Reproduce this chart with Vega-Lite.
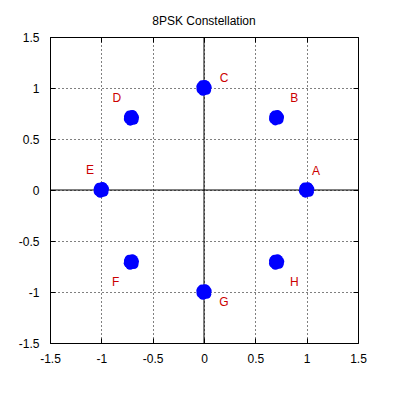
{
  "$schema": "https://vega.github.io/schema/vega-lite/v6.json",
  "width": 308,
  "height": 306,
  "autosize": {"type": "none"},
  "padding": {"left": 50, "top": 37, "right": 36, "bottom": 51},
  "background": "white",
  "title": {"text": "8PSK Constellation", "font": "Liberation Sans", "fontSize": 12, "fontWeight": "normal", "color": "black", "offset": 3},
  "config": {
    "view": {"stroke": "black", "strokeWidth": 1},
    "axis": {"labelFont": "Liberation Sans", "labelFontSize": 12, "labelColor": "black", "domain": false, "tickColor": "black", "tickSize": -5, "title": null}
  },
  "datasets": {
    "pts": [
      {"x": 1.0, "y": 0.0}, {"x": 1.03, "y": 0.01}, {"x": 0.972, "y": 0.015}, {"x": 1.01, "y": 0.032}, {"x": 0.988, "y": -0.03}, {"x": 1.025, "y": -0.022}, {"x": 0.97, "y": -0.012}, {"x": 1.018, "y": 0.026}, {"x": 0.98, "y": 0.028},
      {"x": 0.707, "y": 0.707}, {"x": 0.735, "y": 0.715}, {"x": 0.68, "y": 0.72}, {"x": 0.715, "y": 0.738}, {"x": 0.695, "y": 0.678}, {"x": 0.73, "y": 0.688}, {"x": 0.678, "y": 0.697}, {"x": 0.722, "y": 0.732}, {"x": 0.688, "y": 0.733},
      {"x": 0.0, "y": 1.0}, {"x": 0.03, "y": 1.008}, {"x": -0.03, "y": 1.012}, {"x": 0.008, "y": 1.033}, {"x": -0.01, "y": 0.968}, {"x": 0.024, "y": 0.978}, {"x": -0.028, "y": 0.985}, {"x": 0.02, "y": 1.025}, {"x": -0.018, "y": 1.03},
      {"x": -0.707, "y": 0.707}, {"x": -0.678, "y": 0.712}, {"x": -0.735, "y": 0.718}, {"x": -0.7, "y": 0.74}, {"x": -0.718, "y": 0.676}, {"x": -0.682, "y": 0.686}, {"x": -0.736, "y": 0.695}, {"x": -0.69, "y": 0.733}, {"x": -0.726, "y": 0.735},
      {"x": -1.0, "y": 0.0}, {"x": -0.97, "y": 0.012}, {"x": -1.03, "y": 0.01}, {"x": -0.99, "y": 0.033}, {"x": -1.01, "y": -0.031}, {"x": -0.975, "y": -0.02}, {"x": -1.03, "y": -0.014}, {"x": -0.982, "y": 0.027}, {"x": -1.022, "y": 0.026},
      {"x": -0.707, "y": -0.707}, {"x": -0.678, "y": -0.7}, {"x": -0.735, "y": -0.695}, {"x": -0.698, "y": -0.676}, {"x": -0.72, "y": -0.737}, {"x": -0.683, "y": -0.73}, {"x": -0.737, "y": -0.718}, {"x": -0.688, "y": -0.682}, {"x": -0.728, "y": -0.68},
      {"x": 0.0, "y": -1.0}, {"x": 0.03, "y": -0.99}, {"x": -0.03, "y": -0.988}, {"x": 0.01, "y": -0.968}, {"x": -0.01, "y": -1.032}, {"x": 0.026, "y": -1.022}, {"x": -0.028, "y": -1.014}, {"x": 0.018, "y": -0.975}, {"x": -0.02, "y": -0.972},
      {"x": 0.707, "y": -0.707}, {"x": 0.737, "y": -0.7}, {"x": 0.678, "y": -0.694}, {"x": 0.716, "y": -0.676}, {"x": 0.696, "y": -0.737}, {"x": 0.731, "y": -0.728}, {"x": 0.678, "y": -0.72}, {"x": 0.724, "y": -0.682}, {"x": 0.688, "y": -0.68}
    ],
    "labels": [
      {"x": 1.09, "y": 0.19, "label": "A"},
      {"x": 0.88, "y": 0.9, "label": "B"},
      {"x": 0.195, "y": 1.1, "label": "C"},
      {"x": -0.85, "y": 0.9, "label": "D"},
      {"x": -1.11, "y": 0.2, "label": "E"},
      {"x": -0.86, "y": -0.9, "label": "F"},
      {"x": 0.195, "y": -1.1, "label": "G"},
      {"x": 0.88, "y": -0.9, "label": "H"}
    ],
    "zero": [{"v": 0}]
  },
  "layer": [
    {
      "data": {"name": "zero"},
      "mark": {"type": "rule", "color": "black", "strokeWidth": 1},
      "encoding": {
        "x": {"field": "v", "type": "quantitative", "scale": {"domain": [-1.5, 1.5], "nice": false, "zero": false},
              "axis": {"orient": "bottom", "values": [-1.5, -1, -0.5, 0, 0.5, 1, 1.5], "labelExpr": "toString(datum.value)", "grid": true, "gridColor": "black", "gridDash": [1, 3], "gridOpacity": 1, "labelPadding": 15, "labelFlush": false}},
        "y": {"field": "v", "type": "quantitative", "scale": {"domain": [-1.5, 1.5], "nice": false, "zero": false},
              "axis": {"orient": "left", "values": [-1.5, -1, -0.5, 0, 0.5, 1, 1.5], "labelExpr": "toString(datum.value)", "grid": true, "gridColor": "black", "gridDash": [1, 3], "gridOpacity": 1, "labelPadding": 16, "labelFlush": false}}
      }
    },
    {
      "data": {"name": "zero"},
      "mark": {"type": "rule", "color": "black", "strokeWidth": 1},
      "encoding": {
        "y": {"field": "v", "type": "quantitative", "axis": null}
      }
    },
    {
      "data": {"name": "zero"},
      "mark": {"type": "rule", "color": "black", "strokeWidth": 1},
      "encoding": {
        "x": {"field": "v", "type": "quantitative", "axis": null}
      }
    },
    {
      "data": {"name": "pts"},
      "mark": {"type": "point", "filled": true, "shape": "circle", "color": "#0000ff", "opacity": 1, "size": 85},
      "encoding": {
        "x": {"field": "x", "type": "quantitative", "axis": {"orient": "top", "values": [-1.5, -1, -0.5, 0, 0.5, 1, 1.5], "labels": false, "grid": false}},
        "y": {"field": "y", "type": "quantitative", "axis": {"orient": "right", "values": [-1.5, -1, -0.5, 0, 0.5, 1, 1.5], "labels": false, "grid": false}}
      }
    },
    {
      "data": {"name": "labels"},
      "mark": {"type": "text", "color": "#cc0000", "font": "Liberation Sans", "fontSize": 12, "align": "center", "baseline": "middle"},
      "encoding": {
        "x": {"field": "x", "type": "quantitative", "axis": null},
        "y": {"field": "y", "type": "quantitative", "axis": null},
        "text": {"field": "label"}
      }
    }
  ],
  "resolve": {"axis": {"x": "independent", "y": "independent"}}
}
